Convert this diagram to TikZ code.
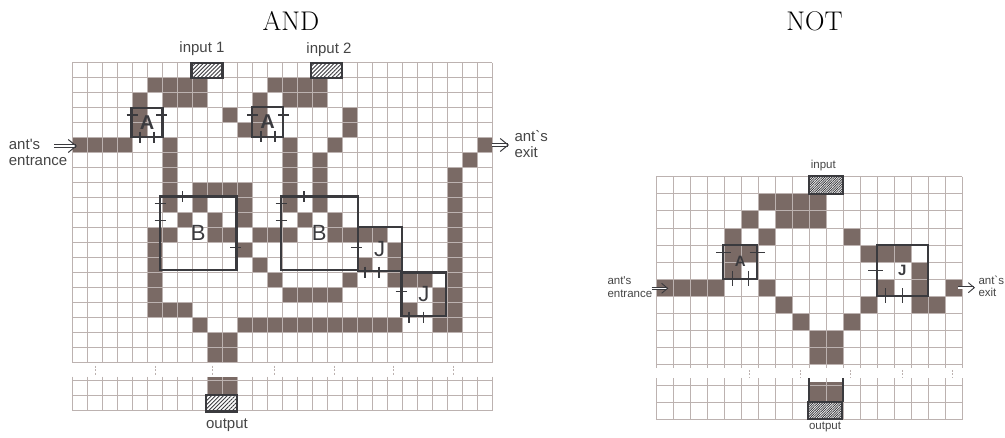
\documentclass[tikz,border=0pt]{standalone}
\usepackage{fontspec}
\newfontfamily\labelfont{Liberation Sans}
\usetikzlibrary{arrows.meta,patterns.meta}
\definecolor{gridcol}{HTML}{BCB2B0}
\definecolor{cellcol}{HTML}{7A6A65}
\definecolor{inkcol}{HTML}{3A3A3E}
\definecolor{textcol}{HTML}{454545}
\tikzset{
  gridline/.style={draw=gridcol, line width=1pt},
  cellfill/.style={fill=cellcol},
  gatebox/.style={draw=inkcol, line width=2.4pt, inner sep=0pt, outer sep=0pt, text=inkcol, font=\labelfont\fontsize{22}{22}\selectfont},
  gateboxbold/.style={gatebox, font=\labelfont\bfseries\fontsize{20}{20}\selectfont},
  gatesmall/.style={draw=inkcol, line width=1.8pt, inner sep=0pt, outer sep=0pt, text=inkcol, font=\labelfont\bfseries\fontsize{15}{15}\selectfont},
  gatetick/.style={draw=inkcol, line width=1.2pt},
  hatchbox/.style={draw=inkcol, line width=2.4pt, inner sep=0pt, outer sep=0pt, preaction={fill=white}, pattern={Lines[angle=45,distance=2.8pt,line width=.9pt]}, pattern color=inkcol},
  hatchsmall/.style={hatchbox, line width=1.8pt, pattern={Lines[angle=45,distance=1.7pt,line width=.8pt]}},
  biglabel/.style={text=textcol, inner sep=0pt, align=left, font=\labelfont\fontsize{15}{16.2}\selectfont},
  smalllabel/.style={text=textcol, inner sep=0pt, align=left, font=\labelfont\fontsize{11.5}{12.5}\selectfont},
  antarrow/.style={draw=inkcol, double, double distance=2pt, line width=.7pt, -{Straight Barb[length=8pt,width=13pt,line width=1pt]}},
  antarrowsmall/.style={draw=inkcol, double, double distance=1.6pt, line width=.6pt, -{Straight Barb[length=6pt,width=10pt,line width=.9pt]}},
  breakmark/.style={draw=gridcol, line width=.8pt, dash pattern=on 2pt off 1.5pt},
  titlelabel/.style={inner sep=0pt, font=\fontsize{27}{27}\selectfont}
}
\begin{document}
\begin{tikzpicture}[x=1pt,y=-1pt]
\useasboundingbox (0,0) rectangle (1005,437);
\node[titlelabel] (titleand) at (291,20.8) {AND};
\node[titlelabel] (titlenot) at (814.5,20.8) {NOT};

% AND grid
\begin{scope}[shift={(72,62.7)},x=15pt,y=-15pt]
\foreach \r/\cols in {1/{5,6,7,8,13,14,15,16},
    2/{4,6,7,8,12,14,15,16},
    3/{4,10,12,18},
    4/{4,11,12,18},
    5/{0,1,2,3,6,14,17,27},
    6/{6,14,16,26},
    7/{6,14,16,25},
    8/{6,8,9,10,11,14,16,25},
    9/{6,8,11,14,16,25},
    10/{7,9,11,15,17,25},
    11/{5,6,9,10,12,13,14,17,18,19,20,25},
    12/{5,11,21,25},
    13/{5,12,19,21,25},
    14/{5,13,18,21,22,23,25},
    15/{5,14,15,16,17,24,25},
    16/{5,6,7,22,24,25},
    17/{8,11,12,13,14,15,16,17,18,19,20,21,24,25},
    18/{9,10},
    19/{9,10}}
  \foreach \c in \cols
    \fill[cellfill] (\c,\r) rectangle +(1,1);
\fill[cellfill] (9,20.93) rectangle (11,22.1);
\foreach \c in {0,...,28} {
  \draw[gridline] (\c,0) -- (\c,20.05);
  \draw[gridline] (\c,20.93) -- (\c,23.25);
}
\foreach \r in {0,...,20}
  \draw[gridline] (0,\r) -- (28,\r);
\foreach \r in {21.2,22.17,23.2}
  \draw[gridline] (0,\r) -- (28,\r);
\foreach \c in {1.58,5.55,9.35,13.47,17.49,21.45,25.45}
  \draw[breakmark] (\c,20.2) -- (\c,20.9);
\end{scope}

\node[hatchbox, minimum width=31pt, minimum height=15.5pt] (input1) at (206.8,70.5) {};
\node[hatchbox, minimum width=31pt, minimum height=15.5pt] (input2) at (326.5,70.5) {};
\node[hatchbox, minimum width=31pt, minimum height=16.5pt] (output1) at (221.5,403.3) {};
\node[biglabel] (input1label) at (202,49) {input 1};
\node[biglabel] (input2label) at (329,50) {input 2};
\node[biglabel] (output1label) at (227,425) {output};

\node[gateboxbold, minimum width=31pt, minimum height=29.5pt] (a1) at (147,122.5) {A};
\node[gateboxbold, minimum width=31.5pt, minimum height=30pt] (a2) at (267.5,121.7) {A};
\node[gatebox, minimum width=76.7pt, minimum height=73.5pt] (b1) at (198.3,233.4) {B};
\node[gatebox, minimum width=77pt, minimum height=73.5pt] (b2) at (319.2,233.4) {B};
\node[gatebox, minimum width=44pt, minimum height=44pt] (j1) at (379.7,248.7) {J};
\node[gatebox, minimum width=44.3pt, minimum height=43.7pt] (j2) at (423.8,294.2) {J};
\foreach \x/\y in {132/115,161.5/115,160/203.3,160/220.7,235.5/247.3,252.5/115,283.5/115,281/203.3,281/220.7,356.5/247.3,401/291.7}
  \draw[gatetick] (\x-5.5,\y) -- (\x+5.5,\y);
\foreach \x/\y in {140/137,154/137,182.7/196.7,261/136,275/136,304/196.7,365/272,379/272,409/317,423.3/317}
  \draw[gatetick] (\x,\y-5.5) -- (\x,\y+5.5);

\coordinate (entrancetail) at (54,146);
\coordinate (entrancehead) at (77,146);
\coordinate (exittail) at (491.7,145);
\coordinate (exithead) at (509,145);
\draw[antarrow] (entrancetail) -- (entrancehead);
\draw[antarrow] (exittail) -- (exithead);
\node[biglabel, anchor=west] (entrancelabel) at (8.7,152.5) {ant's\\entrance};
\node[biglabel, anchor=west] (exitlabel) at (514.3,143.7) {ant`s\\exit};

% NOT grid
\begin{scope}[shift={(656,176.7)},x=17pt,y=-17.1pt]
\foreach \r/\cols in {1/{6,7,8,9},
    2/{5,7,8,9},
    3/{4,6,11},
    4/{4,5,12,13,14},
    5/{4,15},
    6/{0,1,2,3,6,13,15,17},
    7/{7,12,15,16},
    8/{8,11},
    9/{9,10},
    10/{9,10}}
  \foreach \c in \cols
    \fill[cellfill] (\c,\r) rectangle +(1,1);
\fill[cellfill] (9,12.03) rectangle (11,13.2);
\foreach \c in {0,...,18} {
  \draw[gridline] (\c,0) -- (\c,11.2);
  \draw[gridline] (\c,11.8) -- (\c,14.2);
}
\foreach \r in {0,...,11}
  \draw[gridline] (0,\r) -- (18,\r);
\foreach \r in {12.2,13.2,14.2}
  \draw[gridline] (0,\r) -- (18,\r);
\foreach \c in {5.49,8.51,11.45,14.51,17.41}
  \draw[breakmark] (\c,11.3) -- (\c,11.8);
\draw[gatetick] (9,11.8) -- (9,13.2);
\draw[gatetick] (11,11.8) -- (11,13.2);
\end{scope}

\node[hatchsmall, minimum width=33.7pt, minimum height=17.5pt] (input0) at (825.8,185) {};
\node[hatchsmall, minimum width=34pt, minimum height=17pt] (output0) at (825.3,410.8) {};
\node[smalllabel] (input0label) at (823.3,166) {input};
\node[smalllabel] (output0label) at (825,427.3) {output};

\node[gatesmall, minimum width=34pt, minimum height=34pt] (a0) at (740.3,261.7) {A};
\node[gatesmall, minimum width=51pt, minimum height=51.3pt] (j0) at (902.2,270.4) {J};
\foreach \x/\y in {723.7/252.7,757.2/252.7,875.8/270.7}
  \draw[gatetick] (\x-7.5,\y) -- (\x+7.5,\y);
\foreach \x/\y in {732.3/278.3,748.7/278.3,885.3/295.8,902.3/295.8}
  \draw[gatetick] (\x,\y-7.5) -- (\x,\y+7.5);

\coordinate (entrancetail0) at (651.7,288.3);
\coordinate (entrancehead0) at (668.3,288.3);
\coordinate (exittail0) at (958,287.7);
\coordinate (exithead0) at (975,287.7);
\draw[antarrowsmall] (entrancetail0) -- (entrancehead0);
\draw[antarrowsmall] (exittail0) -- (exithead0);
\node[smalllabel, anchor=west] (entrancelabel0) at (607.3,287.2) {ant's\\entrance};
\node[smalllabel, anchor=west] (exitlabel0) at (978.3,286.5) {ant`s\\exit};
\end{tikzpicture}
\end{document}
